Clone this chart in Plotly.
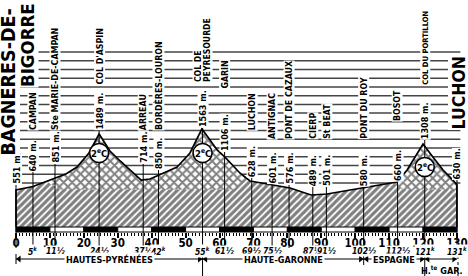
import plotly.graph_objects as go

# ---------------- data ----------------
profile_km = [0, 5, 11.2, 14.7, 18, 21.5, 24.5, 27.7, 30.7, 33.6, 36.9, 39.5, 41.6,
              47.5, 51.3, 54.8, 57.2, 59.3, 61.6, 63.7, 66, 69, 75.2, 80.8, 87,
              91.7, 98.5, 102.3, 112.3, 115.3, 117.6, 120, 122.9, 125.9, 128.8, 130]
profile_alt = [551, 610, 735, 819, 936, 1171, 1489, 1204, 1037, 886, 718, 735, 786,
               936, 1171, 1573, 1388, 1221, 1104, 970, 836, 702, 635, 585, 467,
               484, 551, 585, 685, 886, 1104, 1321, 1104, 886, 718, 635]

place_km = [0, 5, 11.5, 24.5, 37.5, 42, 55, 61.5, 69.5, 75.5, 80.5, 87.5, 91.5,
            102.5, 112.5, 120.5, 130]
place_alt = [551, 640, 851, 1489, 714, 850, 1563, 1106, 628, 601, 576, 489, 501,
             580, 660, 1308, 630]
place_name = ["", "CAMPAN", "Ste MARIE-DE-CAMPAN", "COL D'ASPIN", "ARREAU",
              "BORDÈRES-LOURON", "COL DE<br>PEYRESOURDE", "GARIN", "LUCHON",
              "ANTIGNAC", "PONT DE CAZAUX", "CIERP", "St BEAT", "PONT DU ROY",
              "BOSOT", "COL DU PORTILLON", ""]
place_dist = ["", "5<sup>k</sup>", "11½", "24½", "37½", "42<sup>k</sup>", "55<sup>k</sup>",
              "61½", "69½", "75½", "", "87½", "91½", "102½", "112½",
              "121<sup>k</sup>", "131<sup>k</sup>"]

climb_km = [24.5, 55, 120.5]
climb_cat = ["2<sup>e</sup>C", "2<sup>e</sup>C", "2<sup>e</sup>C"]

dept_names = ["HAUTES-PYRÉNÉES", "HAUTE-GARONNE", "ESPAGNE", "H.<sup>te</sup> GAR."]
dept_bounds = [0, 55, 102.5, 120.5, 130]

tick_km = list(range(0, 131, 10))
start_town = ["BAGNÈRES-DE-", "BIGORRE"]
finish_town = "LUCHON"

# ---------------- layout helpers (pixel geometry) ----------------
W, H = 468, 276
X0_PX, PX_PER_KM = 16.0, 3.392
Y_REF_PX, Y_REF_ALT, M_PER_PX = 190.0, 551.0, 16.75


def alt_at_px(py):
    return Y_REF_ALT + (Y_REF_PX - py) * M_PER_PX


def pap(py):
    return 1 - py / H


def km_interp(k):
    for i in range(len(profile_km) - 1):
        a, b = profile_km[i], profile_km[i + 1]
        if a <= k <= b:
            t = (k - a) / (b - a)
            return profile_alt[i] + t * (profile_alt[i + 1] - profile_alt[i])
    return profile_alt[-1]


BASE = alt_at_px(227)
BAR_BOT = alt_at_px(232)
XH_LEVEL = alt_at_px(189.5)
FONT = "DejaVu Sans Condensed, Liberation Sans Narrow, sans-serif"

alt_label_px = [185, 172, 164, 131, 164, 170, 128, 152, 178, 185, 185, 187, 187, 187, 182, 140, 180]
name_label_px = [None, 131, 131, 86, 131, 131, 83, 90, 131, 140, 140, 140, 140, 140, 122, 86, None]
name_size = [9, 8.8, 8.8, 8.8, 8.8, 8.8, 8.6, 8.8, 8.8, 8.8, 8.8, 8.8, 8.8, 8.8, 8.8, 7.6, 9]
line_end_px = [248, 248, 248, 248, 248, 248, 276, 248, 248, 248, 248, 248, 248, 265, 248, 276, 248]
climb_px = [153, 153, 167]

fig = go.Figure()

# hatched ground: diagonal hatch under whole profile
fig.add_trace(go.Scatter(
    x=[0] + profile_km + [130, 0], y=[BASE] + profile_alt + [BASE, BASE],
    mode="lines", fill="toself", line=dict(width=0),
    fillcolor="white",
    fillpattern=dict(shape="/", fgcolor="black", bgcolor="white", size=5, solidity=0.65),
    hoverinfo="skip", showlegend=False))

# cross-hatched mountain parts
for (a, b, a2, b2) in [(9, 68, 13, 64.5), (111, 130, 114, 130)]:
    xs = [a] + [k for k in profile_km if a < k < b] + [b]
    ys = [km_interp(a)] + [profile_alt[i] for i, k in enumerate(profile_km) if a < k < b] + [km_interp(b)]
    xs += [b2, a2, a]
    ys += [XH_LEVEL, XH_LEVEL, km_interp(a)]
    fig.add_trace(go.Scatter(
        x=xs, y=ys, mode="lines", fill="toself", line=dict(width=0),
        fillcolor="white",
        fillpattern=dict(shape="x", fgcolor="black", bgcolor="white", size=6, solidity=0.55),
        hoverinfo="skip", showlegend=False))

# outline
fig.add_trace(go.Scatter(
    x=[0] + profile_km + [130], y=[BASE] + profile_alt + [BASE],
    mode="lines", line=dict(color="black", width=1.7),
    hoverinfo="skip", showlegend=False))

# department arrow heads
DEPT_PY = 259
ax_l, ax_r = [], []
for a, b in zip(dept_bounds[:-1], dept_bounds[1:]):
    ax_l.append(a + 0.9)
    ax_r.append(b - 0.9)
fig.add_trace(go.Scatter(x=ax_l, y=[alt_at_px(DEPT_PY)] * len(ax_l), mode="markers",
                         marker=dict(symbol="triangle-left", size=6, color="black"),
                         hoverinfo="skip", showlegend=False))
fig.add_trace(go.Scatter(x=ax_r, y=[alt_at_px(DEPT_PY)] * len(ax_r), mode="markers",
                         marker=dict(symbol="triangle-right", size=6, color="black"),
                         hoverinfo="skip", showlegend=False))

shapes = []
# horizontal sky lines (behind the ground)
for k in range(16):
    py = 52 + 8.73 * k
    shapes.append(dict(type="line", xref="x", yref="y", x0=-1, x1=131,
                       y0=alt_at_px(py), y1=alt_at_px(py),
                       line=dict(color="#444444", width=1.5), layer="below"))

# scale bar
for i in range(13):
    black = (i % 2 == 0)
    shapes.append(dict(type="rect", xref="x", yref="y", x0=i * 10, x1=(i + 1) * 10,
                       y0=BAR_BOT, y1=BASE, fillcolor="black" if black else "white",
                       line=dict(color="black", width=1), layer="above"))

# vertical place lines
for km, top, bot in zip(place_km, alt_label_px, line_end_px):
    shapes.append(dict(type="line", xref="x", yref="y", x0=km, x1=km,
                       y0=alt_at_px(top), y1=alt_at_px(bot),
                       line=dict(color="black", width=1), layer="above"))
shapes.append(dict(type="line", xref="x", yref="y", x0=130.3, x1=130.3,
                   y0=alt_at_px(256), y1=alt_at_px(276),
                   line=dict(color="black", width=1, dash="dot"), layer="above"))

# climb circles
for km, py in zip(climb_km, climb_px):
    shapes.append(dict(type="circle", xref="x", yref="y", xsizemode="pixel",
                       ysizemode="pixel", xanchor=km, yanchor=alt_at_px(py),
                       x0=-9.5, x1=9.5, y0=-9.5, y1=9.5, fillcolor="white",
                       line=dict(color="black", width=1.6), layer="above"))

# department lines
for a, b in zip(dept_bounds[:-1], dept_bounds[1:]):
    shapes.append(dict(type="line", xref="x", yref="y", x0=a, x1=b,
                       y0=alt_at_px(DEPT_PY), y1=alt_at_px(DEPT_PY),
                       line=dict(color="black", width=1), layer="above"))
shapes.append(dict(type="line", xref="x", yref="y", x0=0, x1=0,
                   y0=alt_at_px(254), y1=alt_at_px(264),
                   line=dict(color="black", width=1), layer="above"))

ann = []
for km, alt, name, ap, npx, ns in zip(place_km, place_alt, place_name,
                                      alt_label_px, name_label_px, name_size):
    fnt = dict(family=FONT, size=9, color="black", weight="bold")
    ann.append(dict(x=km, xref="x", y=pap(ap), yref="paper", text=f"{alt} m.",
                    textangle=-90, xanchor="center", yanchor="bottom", showarrow=False,
                    font=fnt, bgcolor="white", borderpad=0))
    if name:
        lines = name.split("<br>")
        n = len(lines)
        for i, ln in enumerate(lines):
            ann.append(dict(x=km, xref="x", y=pap(npx), yref="paper", text=ln,
                            textangle=-90, xanchor="center", yanchor="bottom",
                            xshift=(i - (n - 1) / 2) * 9, showarrow=False,
                            font=dict(family=FONT, size=ns, color="black", weight="bold"),
                            bgcolor="white", borderpad=0))

# start / finish towns
big = dict(family=FONT, size=19.5, color="black", weight="bold")
ann.append(dict(x=8 / W, xref="paper", y=pap(8), yref="paper", text=start_town[0],
                textangle=-90, xanchor="center", yanchor="top", showarrow=False,
                font=big, bgcolor="white", borderpad=0))
ann.append(dict(x=27 / W, xref="paper", y=pap(2), yref="paper", text=start_town[1],
                textangle=-90, xanchor="center", yanchor="top", showarrow=False,
                font=dict(family=FONT, size=18.5, color="black", weight="bold"),
                bgcolor="white", borderpad=0))
ann.append(dict(x=458 / W, xref="paper", y=pap(131), yref="paper", text=finish_town,
                textangle=-90, xanchor="center", yanchor="bottom", showarrow=False,
                font=dict(family=FONT, size=17.5, color="black", weight="bold"),
                bgcolor="white", borderpad=0))

# climb category text
for km, cat, py in zip(climb_km, climb_cat, climb_px):
    ann.append(dict(x=km, xref="x", y=pap(py), yref="paper", text=cat,
                    showarrow=False, font=dict(family=FONT, size=9.5, color="black", weight="bold"),
                    xanchor="center", yanchor="middle"))

# distance sub-labels
for km, d in zip(place_km, place_dist):
    if d:
        ann.append(dict(x=km, xref="x", y=pap(251), yref="paper", text=d, showarrow=False,
                        font=dict(family=FONT, size=8.5, color="black", weight="bold", style="italic"),
                        xanchor="center", yanchor="middle", bgcolor="white", borderpad=0))

# department names
dfont = dict(family=FONT, size=9, color="black", weight="bold")
for i, (name, a, b) in enumerate(zip(dept_names, dept_bounds[:-1], dept_bounds[1:])):
    if i < 3:
        ann.append(dict(x=(a + b) / 2, xref="x", y=pap(DEPT_PY + 0.5), yref="paper", text=name,
                        showarrow=False, font=dfont, xanchor="center", yanchor="middle",
                        bgcolor="white", borderpad=1))
    else:
        ann.append(dict(x=(a + b) / 2 + 0.3, xref="x", y=pap(269.5), yref="paper", text=name,
                        showarrow=False, font=dfont, xanchor="center", yanchor="middle"))

fig.update_layout(
    width=W, height=H, autosize=False,
    margin=dict(l=0, r=0, t=0, b=0, pad=0),
    paper_bgcolor="white", plot_bgcolor="white",
    shapes=shapes, annotations=ann, showlegend=False,
    xaxis=dict(range=[-X0_PX / PX_PER_KM, (W - X0_PX) / PX_PER_KM],
               showgrid=False, zeroline=False, showline=False,
               anchor="free", position=pap(232),
               tickmode="array", tickvals=tick_km, ticks="outside",
               ticklen=5, tickwidth=1.5, tickcolor="black",
               tickfont=dict(family=FONT, size=11.5, color="black", weight="bold"),
               ticklabelstandoff=-5,
               minor=dict(tickmode="array", tickvals=list(range(0, 131)),
                          ticks="outside", ticklen=3, tickwidth=1, tickcolor="black")),
    yaxis=dict(range=[alt_at_px(H), alt_at_px(0)], visible=False,
               showgrid=False, zeroline=False),
)

fig.write_html("out.html")
